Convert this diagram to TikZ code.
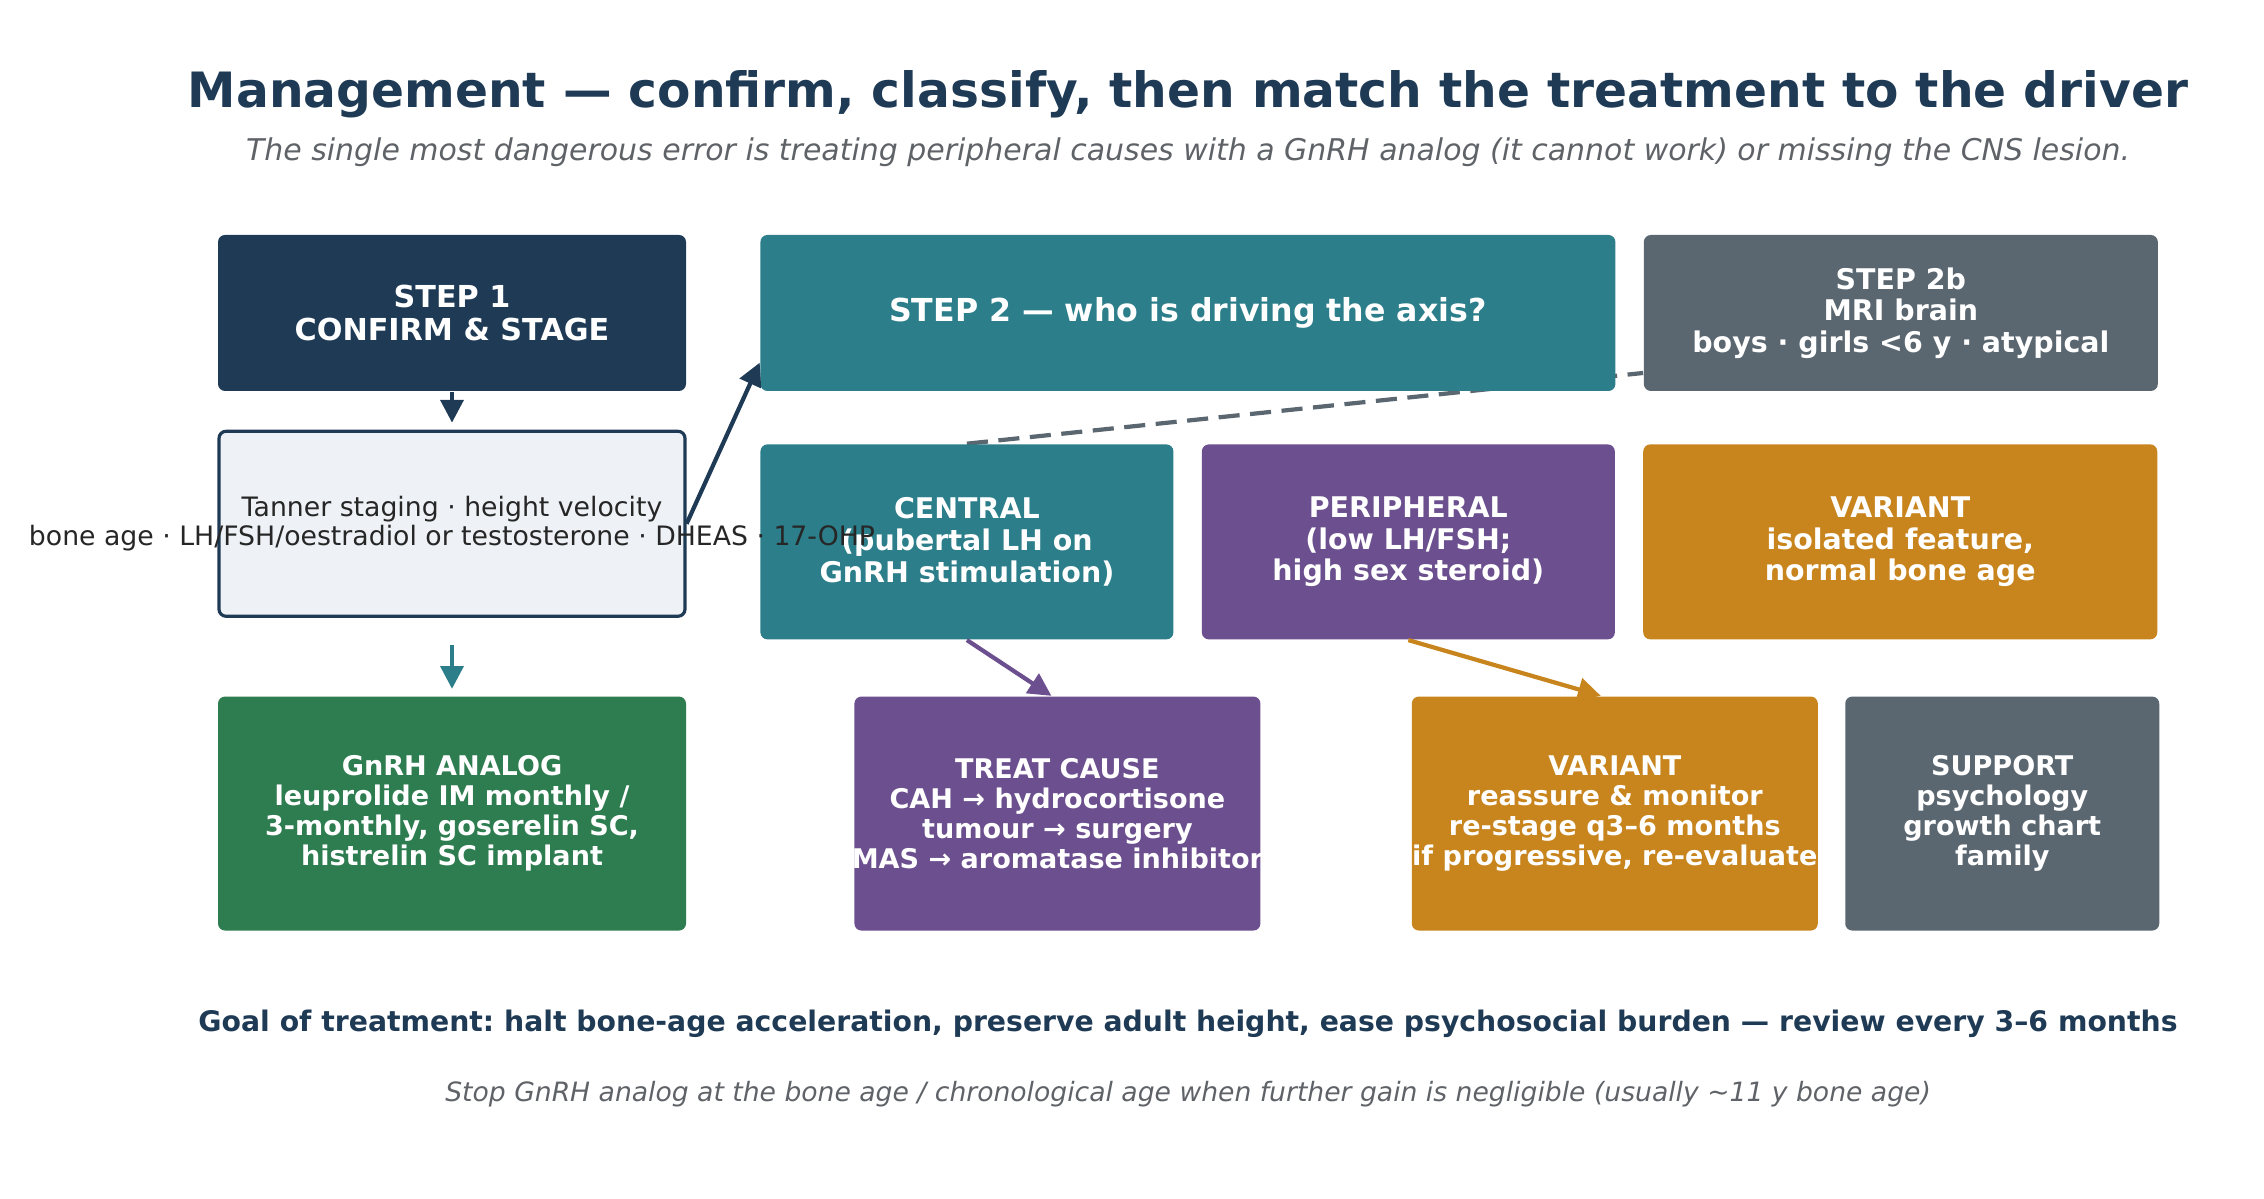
\documentclass[tikz,border=0pt]{standalone}
\usepackage{fontspec}
\setmainfont{DejaVu Sans}
\usetikzlibrary{arrows.meta, positioning}
\definecolor{cnavy}{HTML}{1E3A55}
\definecolor{cteal}{HTML}{2C7E8A}
\definecolor{cgray}{HTML}{5A6770}
\definecolor{cpurple}{HTML}{6B4F8E}
\definecolor{corange}{HTML}{C8841D}
\definecolor{cgreen}{HTML}{2E7D50}
\definecolor{cpale}{HTML}{EEF2F6}
\definecolor{csub}{HTML}{5F6368}
\pgfdeclarelayer{bg}
\pgfsetlayers{bg,main}
\frenchspacing

\begin{document}
\begin{tikzpicture}[
    box/.style={rounded corners=2pt, text=white, align=center, inner sep=0pt, font=\fontsize{8.1}{9}\bfseries\selectfont},
    toprow/.style={box, minimum height=1.56cm},
    midrow/.style={box, minimum height=1.95cm},
    lowrow/.style={box, minimum height=2.34cm, font=\fontsize{7.7}{8.5}\bfseries\selectfont},
    arr/.style={->, line width=1.2pt},
    >={Triangle[length=6.5pt, width=6.5pt]}]
  \useasboundingbox (0,0) rectangle (22.64,11.99);
  \node[font=\fontsize{13.85}{16}\bfseries\selectfont, text=cnavy] (title) at (11.88,11.05)
    {Management — confirm, classify, then match the treatment to the driver};
  \node[font=\fontsize{8.52}{10}\itshape\selectfont, text=csub] (sub) at (11.88,10.47)
    {The single most dangerous error is treating peripheral causes with a GnRH analog (it cannot work) or missing the CNS lesion.};

  \node[toprow, fill=cnavy, minimum width=4.68cm, font=\fontsize{8.6}{9.4}\bfseries\selectfont] (S1) at (4.52,8.86) {STEP 1\\CONFIRM \& STAGE};
  \node[toprow, fill=cteal, minimum width=8.55cm, right=0.73cm of S1, font=\fontsize{9}{10}\bfseries\selectfont] (S2) {STEP 2 — who is driving the axis?};
  \node[toprow, fill=cgray, minimum width=5.14cm, right=0.27cm of S2] (S2b) {STEP 2b\\MRI brain\\boys · girls <6 y · atypical};

  \node[midrow, fill=cteal, minimum width=4.13cm, below=0.52cm of S2.south west, anchor=north west] (C)
    {CENTRAL\\(pubertal LH on\\GnRH stimulation)};
  \node[midrow, fill=cpurple, minimum width=4.13cm, right=0.27cm of C] (P)
    {PERIPHERAL\\(low LH/FSH;\\high sex steroid)};
  \node[midrow, fill=corange, minimum width=5.14cm, right=0.27cm of P] (V)
    {VARIANT\\isolated feature,\\normal bone age};

  \node[rounded corners=2pt, draw=cnavy, line width=0.9pt, fill=cpale, minimum width=4.66cm, minimum height=1.85cm,
    inner sep=0pt, align=center, font=\fontsize{7.6}{8.3}\selectfont, text=black!85, below=0.38cm of S1] (T)
    {Tanner staging · height velocity\\\makebox[0pt]{bone age · LH/FSH/oestradiol or testosterone · DHEAS · 17-OHP}};

  \node[lowrow, fill=cgreen, minimum width=4.68cm, below=0.78cm of T] (G)
    {GnRH ANALOG\\leuprolide IM monthly /\\3-monthly, goserelin SC,\\histrelin SC implant};
  \node[lowrow, fill=cpurple, minimum width=4.06cm, right=1.67cm of G] (TC)
    {TREAT CAUSE\\CAH → hydrocortisone\\tumour → surgery\\\makebox[0pt]{MAS → aromatase inhibitor}};
  \node[lowrow, fill=corange, minimum width=4.06cm, right=1.50cm of TC] (VB)
    {VARIANT\\reassure \& monitor\\re-stage q3–6 months\\\makebox[0pt]{if progressive, re-evaluate}};
  \node[lowrow, fill=cgray, minimum width=3.14cm, right=0.26cm of VB] (SU)
    {SUPPORT\\psychology\\growth chart\\family};

  \draw[arr, cnavy, shorten >=2pt] (S1) -- (T);
  \draw[arr, cnavy] (T.east) -- ([yshift=0.29cm]S2.south west);
  \draw[arr, cteal, shorten <=0.27cm, shorten >=0.07cm] (T) -- (G);
  \draw[arr, cpurple] (C.south) -- ([xshift=-0.06cm]TC.north);
  \draw[arr, corange] (P.south) -- ([xshift=-0.14cm]VB.north);
  \begin{pgfonlayer}{bg}
    \draw[cgray, line width=1.2pt, dash pattern=on 6pt off 3pt] (C.north) -- ([yshift=-0.6cm]S2b.west);
  \end{pgfonlayer}

  \node[font=\fontsize{8.05}{9}\bfseries\selectfont, text=cnavy] (goal) at (11.88,1.75)
    {Goal of treatment: halt bone-age acceleration, preserve adult height, ease psychosocial burden — review every 3–6 months};
  \node[font=\fontsize{7.57}{9}\itshape\selectfont, text=csub] (stop) at (11.88,1.05)
    {Stop GnRH analog at the bone age / chronological age when further gain is negligible (usually \textasciitilde11 y bone age)};
\end{tikzpicture}
\end{document}
